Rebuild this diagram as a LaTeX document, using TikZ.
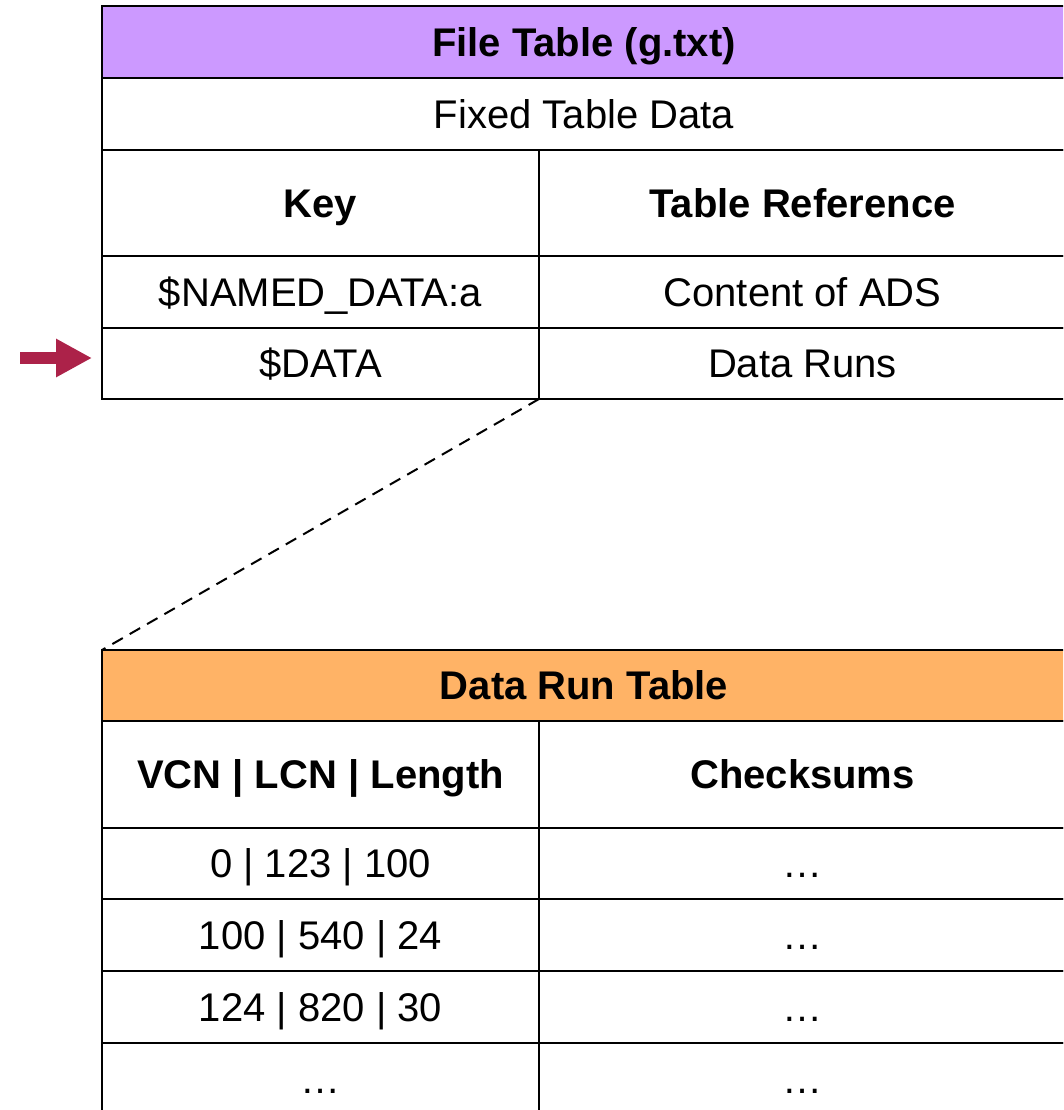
\documentclass[tikz,border=0pt]{standalone}
\usepackage{fontspec}
\setmainfont{Liberation Sans}
\usetikzlibrary{arrows.meta}
\definecolor{ftpurple}{HTML}{CC99FF}
\definecolor{drorange}{HTML}{FFB366}
\definecolor{arrred}{HTML}{AC2249}
\tikzset{
  cell/.style={draw=black, line width=2pt, anchor=north west, inner sep=0pt, outer sep=0pt,
    text height=28.5pt, text depth=0pt, font=\fontsize{40}{48}\selectfont},
  wide/.style={cell, minimum width=964pt},
  lcol/.style={cell, minimum width=437pt},
  rcol/.style={cell, minimum width=527pt},
  hdr/.style={font=\fontsize{40}{48}\selectfont\bfseries},
  zoomline/.style={dash pattern=on 12pt off 8pt, line width=2pt},
  pointer/.style={arrred, line width=12pt, -{Triangle[length=36pt,width=36pt]}}
}
\begin{document}
\begin{tikzpicture}[x=1pt,y=-1pt]
\useasboundingbox (0,0) rectangle (1063,1110);
\clip (0,0) rectangle (1063,1110);
% File table
\node[wide, fill=ftpurple, minimum height=72pt, hdr] (ftitle) at (102,6) {File Table (g.txt)};
\node[wide, minimum height=72pt] (fixed) at (102,78) {Fixed Table Data};
\node[lcol, minimum height=106pt, hdr] (key) at (102,150) {Key};
\node[rcol, minimum height=106pt, hdr] (tref) at (539,150) {Table Reference};
\node[lcol, minimum height=72pt] (named) at (102,256) {\$NAMED\_DATA:a};
\node[rcol, minimum height=72pt] (content) at (539,256) {Content of ADS};
\node[lcol, minimum height=71pt] (data) at (102,328) {\$DATA};
\node[rcol, minimum height=71pt] (runs) at (539,328) {Data Runs};
% Data run table
\node[wide, fill=drorange, minimum height=71pt, hdr] (drt) at (102,650) {Data Run Table};
\node[lcol, minimum height=107pt, hdr] (vcn) at (102,721) {VCN | LCN | Length};
\node[rcol, minimum height=107pt, hdr] (chk) at (539,721) {Checksums};
\node[lcol, minimum height=71pt] (r1a) at (102,828) {0 | 123 | 100};
\node[rcol, minimum height=71pt] (r1b) at (539,828) {…};
\node[lcol, minimum height=72pt] (r2a) at (102,899) {100 | 540 | 24};
\node[rcol, minimum height=72pt] (r2b) at (539,899) {…};
\node[lcol, minimum height=72pt] (r3a) at (102,971) {124 | 820 | 30};
\node[rcol, minimum height=72pt] (r3b) at (539,971) {…};
\node[lcol, minimum height=72pt] (r4a) at (102,1043) {…};
\node[rcol, minimum height=72pt] (r4b) at (539,1043) {…};
% zoom line
\draw[zoomline] (runs.south west) -- (drt.north west);
% pointer arrow
\coordinate (atail) at (20,358);
\coordinate (atip) at (92,358);
\draw[pointer] (atail) -- (atip);
\end{tikzpicture}
\end{document}
